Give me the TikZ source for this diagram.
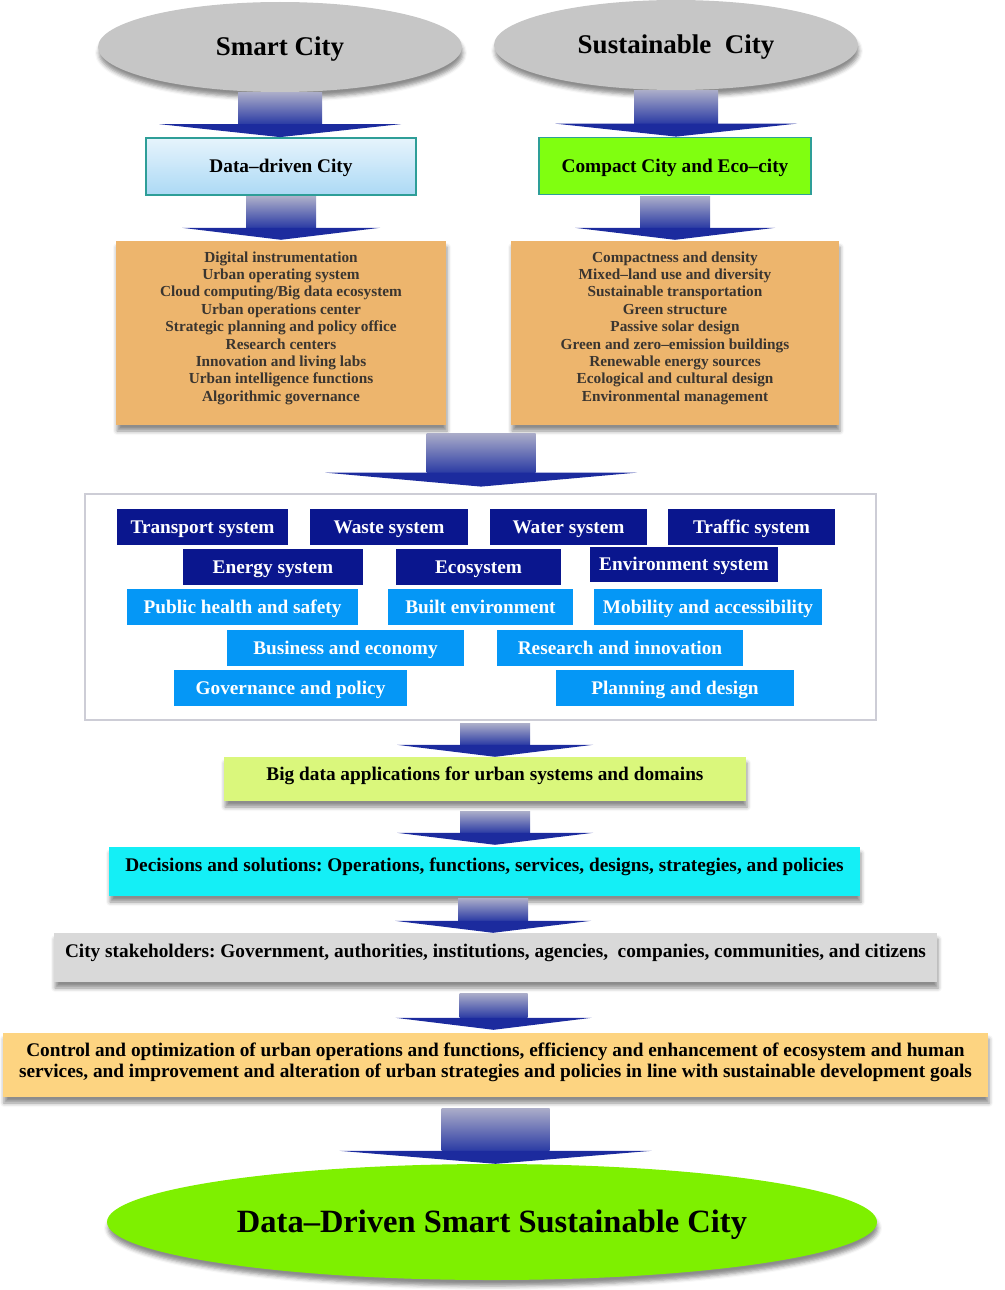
\documentclass[tikz,border=0pt]{standalone}
\usepackage{fontspec}
\setmainfont{Liberation Serif}
\frenchspacing
\usetikzlibrary{shapes.geometric,shadows.blur,calc}
\definecolor{ellgray}{HTML}{C6C6C6}
\definecolor{tealb}{HTML}{2E9E98}
\definecolor{ddtop}{HTML}{E6F4FC}
\definecolor{ddbot}{HTML}{ACD9F5}
\definecolor{lime}{HTML}{80FF10}
\definecolor{orng}{HTML}{EDB56D}
\definecolor{otext}{HTML}{3A3530}
\definecolor{navy}{HTML}{0A168E}
\definecolor{sky}{HTML}{0597F6}
\definecolor{framec}{HTML}{CDCDD6}
\definecolor{bdcol}{HTML}{DAF77C}
\definecolor{cyanb}{HTML}{14EFF6}
\definecolor{stkgray}{HTML}{D9D9D9}
\definecolor{ctrlcol}{HTML}{FDD481}
\definecolor{fingreen}{HTML}{7EF000}
\definecolor{shafttop}{HTML}{ABADC9}
\definecolor{shaftbot}{HTML}{2B3BA4}
\definecolor{headblue}{HTML}{1C2B9E}
\newcommand\blockarrow[5]{%
  \shade[top color=shafttop,bottom color=shaftbot] let \p1=#1, \p2=#2 in
    (\x1-#3pt,\y1) rectangle (\x1+#3pt,\y2+#5pt);
  \fill[headblue] let \p1=#1, \p2=#2 in
    (\x1-#4pt,\y2+#5pt) -- (\x1+#4pt,\y2+#5pt) -- (\x1,\y2) -- cycle;
}
\tikzset{
  shd/.style={blur shadow={shadow xshift=1pt,shadow yshift=-6pt,shadow blur radius=4pt,shadow opacity=45}},
  grayell/.style={ellipse,fill=ellgray,minimum width=364pt,minimum height=90pt,inner sep=0pt,
    font=\fontsize{27}{30}\selectfont\bfseries,shd},
  headbox/.style={draw=tealb,line width=1.8pt,inner sep=0pt,minimum height=57pt,
    text height=12.8pt,text depth=0pt,font=\fontsize{19.3}{22}\selectfont\bfseries},
  obox/.style={fill=orng,inner sep=0pt,minimum width=330pt,minimum height=184pt,shd},
  otxt/.style={inner sep=0pt,align=center,text=otext,font=\fontsize{15.3}{17.4}\selectfont\bfseries},
  sysdark/.style={fill=navy,text=white,inner sep=0pt,minimum height=36pt,
    text height=12.8pt,text depth=0pt,font=\fontsize{19.3}{22}\selectfont\bfseries},
  syslight/.style={sysdark,fill=sky},
  flowbox/.style={inner sep=0pt,shd},
  flowtxt/.style={inner sep=0pt,align=center,font=\fontsize{19.3}{21}\selectfont\bfseries},
}
\begin{document}
\begin{tikzpicture}[x=1pt,y=-1pt]
\useasboundingbox (0,0) rectangle (1004,1290);
% top ellipses
\node[grayell] (sc) at (280,47) {};
\node[font=\fontsize{27}{30}\selectfont\bfseries,inner sep=0pt] at ([yshift=-2pt]sc.center) {Smart City};
\node[grayell] (su) at (676,45) {};
\node[font=\fontsize{27}{30}\selectfont\bfseries,inner sep=0pt] at ([yshift=-2pt]su.center) {Sustainable\ \ City};
% head boxes
\node[headbox,minimum width=270pt,top color=ddtop,bottom color=ddbot] (ddc) at (281,166.5) {Data–driven City};
\node[headbox,minimum width=272pt,fill=lime] (cc) at (675,166) {Compact City and Eco–city};
% orange lists
\node[obox] (ol) at (281,333) {};
\node[otxt] at ([yshift=5pt]ol.center) {Digital instrumentation\\Urban operating system\\Cloud computing/Big data ecosystem\\Urban operations center\\Strategic planning and policy office\\Research centers\\Innovation and living labs\\Urban intelligence functions\\Algorithmic governance};
\node[obox,minimum width=328pt] (or) at (675,333) {};
\node[otxt] at ([yshift=5pt]or.center) {Compactness and density\\Mixed–land use and diversity\\Sustainable transportation\\Green structure\\Passive solar design\\Green and zero–emission buildings\\Renewable energy sources\\Ecological and cultural design\\Environmental management};
% systems frame
\node[draw=framec,line width=2.8pt,fill=white,minimum width=791pt,minimum height=226pt,inner sep=0pt] (sys) at (480.5,607) {};
\node[sysdark,minimum width=171pt] (t1) at (202.5,527) {Transport system};
\node[sysdark,minimum width=158pt] (t2) at (389,527) {Waste system};
\node[sysdark,minimum width=157pt] (t3) at (568.5,527) {Water system};
\node[sysdark,minimum width=167pt] (t4) at (751.5,527) {Traffic system};
\node[sysdark,minimum width=180pt] (e1) at (273,567) {Energy system};
\node[sysdark,minimum width=165pt] (e2) at (478.5,567) {Ecosystem};
\node[sysdark,minimum width=188pt,minimum height=35pt] (e3) at (684,564.5) {Environment system};
\node[syslight,minimum width=231pt] (p1) at (242.5,607) {Public health and safety};
\node[syslight,minimum width=185pt] (p2) at (480.5,607) {Built environment};
\node[syslight,minimum width=228pt] (p3) at (708,607) {Mobility and accessibility};
\node[syslight,minimum width=237pt] (b1) at (345.5,648) {Business and economy};
\node[syslight,minimum width=246pt] (b2) at (620,648) {Research and innovation};
\node[syslight,minimum width=233pt] (g1) at (290.5,688) {Governance and policy};
\node[syslight,minimum width=238pt] (g2) at (675,688) {Planning and design};
% flow boxes
\node[flowbox,fill=bdcol,minimum width=522pt,minimum height=44pt] (bd) at (485,779) {};
\node[flowtxt] at ([yshift=3pt]bd.center) {Big data applications for urban systems and domains};
\node[flowbox,fill=cyanb,minimum width=751pt,minimum height=49pt] (dec) at (484.5,871.5) {};
\node[flowtxt] at ([yshift=5pt]dec.center) {Decisions and solutions: Operations, functions, services, designs, strategies, and policies};
\node[flowbox,fill=stkgray,minimum width=883pt,minimum height=49pt] (stk) at (495.5,957.5) {};
\node[flowtxt] at ([yshift=5pt]stk.center) {City stakeholders: Government, authorities, institutions, agencies,\ \ companies, communities, and citizens};
\node[flowbox,fill=ctrlcol,minimum width=985pt,minimum height=64pt] (ctl) at (495.5,1065) {};
\node[flowtxt] at ([yshift=2.5pt]ctl.center) {Control and optimization of urban operations and functions, efficiency and enhancement of ecosystem and human\\services, and improvement and alteration of urban strategies and policies in line with sustainable development goals};
\node[ellipse,fill=fingreen,minimum width=770pt,minimum height=116pt,inner sep=0pt,shd] (fin) at (492,1222) {};
\node[font=\fontsize{32.5}{36}\selectfont\bfseries,inner sep=0pt] at ([yshift=-2.5pt]fin.center) {Data–Driven Smart Sustainable City};
% arrows
\coordinate (mid) at (481,433);
\blockarrow{(sc.south)}{(ddc.north)}{42}{121}{13}
\blockarrow{(su.south)}{(cc.north)}{42}{121}{13}
\blockarrow{($(ddc.south)+(0,1)$)}{($(ol.north)+(0,-1)$)}{35}{99}{12}
\blockarrow{($(cc.south)+(0,1)$)}{($(or.north)+(0,-1)$)}{35}{100}{12}
\blockarrow{(mid)}{([yshift=6pt]sys.north)}{54.5}{156}{14}
\blockarrow{([xshift=14.5pt,yshift=-2pt]sys.south)}{(bd.north)}{35}{98}{12}
\blockarrow{([xshift=10pt,yshift=-10pt]bd.south)}{([yshift=2pt]dec.north)}{35}{98}{12}
\blockarrow{([xshift=8.5pt,yshift=-2pt]dec.south)}{(stk.north)}{35}{98}{12}
\blockarrow{([xshift=-2pt,yshift=-11pt]stk.south)}{([yshift=3pt]ctl.north)}{34}{98}{12}
\blockarrow{([yshift=-11pt]ctl.south)}{(fin.north)}{54}{156}{13}
\end{tikzpicture}
\end{document}
